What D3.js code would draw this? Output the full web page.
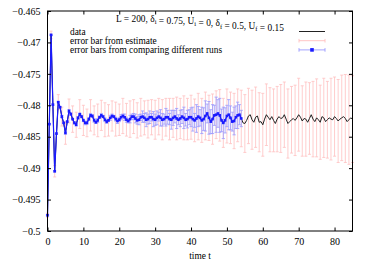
<!DOCTYPE html>
<html>
<head>
<meta charset="utf-8">
<script src="https://cdn.jsdelivr.net/npm/d3@7"></script>
<style>
  body { margin: 0; background: #fff; }
  text { font-family: "Liberation Serif", "DejaVu Serif", serif; font-size: 9.4px; fill: #000; }
  .tick text { font-size: 10px; }
</style>
</head>
<body>
<svg id="viz" width="374" height="262"></svg>
<script>
// time step of the simulation output
var timeStep = 0.5;

// data: <n(t)> sampled every 0.5 from t = 0 to 85
var dataValues = [
	-0.4975, -0.4830, -0.4688, -0.4799, -0.4905, -0.4845, -0.4795, -0.4803, -0.4818, -0.4828,
	-0.4844, -0.4826, -0.4809, -0.4814, -0.4822, -0.4828, -0.4831, -0.4820, -0.4814, -0.4818,
	-0.4824, -0.4828, -0.4828, -0.4822, -0.4816, -0.4817, -0.4824, -0.4827, -0.4824, -0.4819,
	-0.4816, -0.4818, -0.4823, -0.4826, -0.4824, -0.4820, -0.4817, -0.4818, -0.4822, -0.4825,
	-0.4823, -0.4819, -0.4817, -0.4819, -0.4823, -0.4825, -0.4822, -0.4818, -0.4818, -0.4821,
	-0.4824, -0.4823, -0.4819, -0.4818, -0.4820, -0.4823, -0.4822, -0.4819, -0.4819, -0.4822,
	-0.4823, -0.4820, -0.4818, -0.4820, -0.4823, -0.4822, -0.4819, -0.4819, -0.4822, -0.4823,
	-0.4820, -0.4818, -0.4821, -0.4823, -0.4821, -0.4818, -0.4820, -0.4823, -0.4822, -0.4819,
	-0.4819, -0.4822, -0.4824, -0.4821, -0.4818, -0.4820, -0.4824, -0.4822, -0.4817, -0.4813,
	-0.4820, -0.4826, -0.4822, -0.4816, -0.4815, -0.4813, -0.4816, -0.4824, -0.4828, -0.4824,
	-0.4817, -0.4815, -0.4820, -0.4826, -0.4825, -0.4819, -0.4816, -0.4815, -0.4821, -0.4828,
	-0.4829, -0.4824, -0.4817, -0.4815, -0.4823, -0.4827, -0.4819, -0.4817, -0.4827, -0.4826,
	-0.4831, -0.4822, -0.4815, -0.4819, -0.4823, -0.4818, -0.4824, -0.4829, -0.4822, -0.4818,
	-0.4821, -0.4820, -0.4815, -0.4822, -0.4829, -0.4826, -0.4823, -0.4821, -0.4824, -0.4820,
	-0.4815, -0.4819, -0.4825, -0.4821, -0.4822, -0.4827, -0.4821, -0.4815, -0.4822, -0.4826,
	-0.4820, -0.4823, -0.4827, -0.4818, -0.4820, -0.4826, -0.4823, -0.4820, -0.4822, -0.4823,
	-0.4818, -0.4821, -0.4825, -0.4822, -0.4820, -0.4818, -0.4821, -0.4826, -0.4823, -0.4820,
	-0.4822
];

// error bar from estimate: half width at t = 0, 1, 2, ... 85
var estimateErr = [
	0.0003, 0.0006, 0.0009, 0.0012, 0.0015, 0.0018, 0.0019, 0.0021, 0.0020, 0.0023,
	0.0024, 0.0022, 0.0025, 0.0023, 0.0026, 0.0024, 0.0027, 0.0025, 0.0024, 0.0027,
	0.0025, 0.0028, 0.0026, 0.0029, 0.0027, 0.0028, 0.0030, 0.0027, 0.0030, 0.0028,
	0.0031, 0.0029, 0.0032, 0.0030, 0.0033, 0.0031, 0.0034, 0.0032, 0.0035, 0.0033,
	0.0035, 0.0034, 0.0037, 0.0035, 0.0038, 0.0036, 0.0040, 0.0038, 0.0041, 0.0039,
	0.0043, 0.0041, 0.0044, 0.0042, 0.0045, 0.0046, 0.0044, 0.0047, 0.0048, 0.0047,
	0.0050, 0.0049, 0.0051, 0.0050, 0.0052, 0.0054, 0.0052, 0.0055, 0.0053, 0.0056,
	0.0058, 0.0056, 0.0059, 0.0057, 0.0060, 0.0062, 0.0059, 0.0063, 0.0061, 0.0065,
	0.0063, 0.0066, 0.0068, 0.0070, 0.0071, 0.0069
];

// error bars from comparing different runs: half width every 0.5 from t = 0 to 54
var runsErr = [
	0.0001, 0.0001, 0.0001, 0.0001, 0.0001, 0.0001, 0.0001, 0.0001, 0.0002, 0.0001,
	0.0002, 0.0001, 0.0002, 0.0002, 0.0001, 0.0002, 0.0002, 0.0002, 0.0001, 0.0002,
	0.0002, 0.0003, 0.0002, 0.0002, 0.0003, 0.0002, 0.0003, 0.0002, 0.0003, 0.0002,
	0.0003, 0.0002, 0.0003, 0.0003, 0.0002, 0.0004, 0.0003, 0.0002, 0.0003, 0.0004,
	0.0003, 0.0004, 0.0003, 0.0005, 0.0004, 0.0003, 0.0006, 0.0004, 0.0005, 0.0007,
	0.0006, 0.0008, 0.0005, 0.0009, 0.0007, 0.0011, 0.0008, 0.0010, 0.0006, 0.0012,
	0.0009, 0.0011, 0.0007, 0.0013, 0.0010, 0.0008, 0.0014, 0.0011, 0.0009, 0.0015,
	0.0012, 0.0010, 0.0016, 0.0008, 0.0013, 0.0011, 0.0017, 0.0010, 0.0014, 0.0012,
	0.0015, 0.0019, 0.0011, 0.0022, 0.0016, 0.0013, 0.0021, 0.0018, 0.0024, 0.0015,
	0.0026, 0.0019, 0.0023, 0.0016, 0.0028, 0.0022, 0.0027, 0.0018, 0.0025, 0.0020,
	0.0017, 0.0024, 0.0019, 0.0015, 0.0022, 0.0018, 0.0021, 0.0016, 0.0013
];

var xTicks = [0, 10, 20, 30, 40, 50, 60, 70, 80];
var yTicks = [-0.465, -0.47, -0.475, -0.48, -0.485, -0.49, -0.495, -0.5];
var legendLabels = ["data", "error bar from estimate", "error bars from comparing different runs"];

var margin = { left: 47.5, right: 21.5, top: 11, bottom: 31 };
var width = 374, height = 262;

var x = d3.scaleLinear().domain([0, 85]).range([margin.left, width - margin.right]);
var y = d3.scaleLinear().domain([-0.5, -0.465]).range([height - margin.bottom, margin.top]);

var svg = d3.select("#viz");

var pink = "#ffc0c0", blueBar = "#9a9aff", blue = "#1a1aff";

var dataPts = dataValues.map(function (v, i) { return { t: i * timeStep, v: v }; });
var estPts = estimateErr.map(function (e, i) { return { t: i, v: dataValues[i * 2], e: e }; });
var runPts = runsErr.map(function (e, i) { return { t: i * timeStep, v: dataValues[i], e: e }; });

var plot = svg.append("g");

function errorBars(parent, pts, color, cap) {
	var g = parent.append("g").attr("stroke", color).attr("stroke-width", 0.8);
	g.selectAll(".bar").data(pts).enter().append("line")
		.attr("x1", function (d) { return x(d.t); }).attr("x2", function (d) { return x(d.t); })
		.attr("y1", function (d) { return y(d.v + d.e); }).attr("y2", function (d) { return y(d.v - d.e); });
	g.selectAll(".capt").data(pts).enter().append("line")
		.attr("x1", function (d) { return x(d.t) - cap; }).attr("x2", function (d) { return x(d.t) + cap; })
		.attr("y1", function (d) { return y(d.v + d.e); }).attr("y2", function (d) { return y(d.v + d.e); });
	g.selectAll(".capb").data(pts).enter().append("line")
		.attr("x1", function (d) { return x(d.t) - cap; }).attr("x2", function (d) { return x(d.t) + cap; })
		.attr("y1", function (d) { return y(d.v - d.e); }).attr("y2", function (d) { return y(d.v - d.e); });
}

// pink error bars from estimate
errorBars(plot, estPts, pink, 1.5);

// black data line
var line = d3.line().x(function (d) { return x(d.t); }).y(function (d) { return y(d.v); });
plot.append("path").datum(dataPts)
	.attr("fill", "none").attr("stroke", "#222").attr("stroke-width", 1)
	.attr("d", line);

// blue error bars from comparing runs
errorBars(plot, runPts, blueBar, 1.6);
plot.append("path").datum(runPts)
	.attr("fill", "none").attr("stroke", blue).attr("stroke-width", 1.2)
	.attr("d", line);
plot.append("g").selectAll("rect").data(runPts).enter().append("rect")
	.attr("x", function (d) { return x(d.t) - 1.3; }).attr("y", function (d) { return y(d.v) - 1.3; })
	.attr("width", 2.6).attr("height", 2.6).attr("fill", blue);

// axes, gnuplot style: ticks inward and mirrored
var x0 = x.range()[0], x1 = x.range()[1], y0 = y.range()[0], y1 = y.range()[1];

function plain(g) {
	g.attr("font-family", null).attr("font-size", null);
	g.select(".domain").remove();
	g.selectAll(".tick line").attr("stroke", "#000");
	g.selectAll(".tick text").style("fill", "#000");
}

svg.append("g").attr("transform", "translate(0," + y0 + ")")
	.call(d3.axisBottom(x).tickValues(xTicks).tickSizeInner(-3.5).tickSizeOuter(0).tickPadding(7))
	.call(plain);
svg.append("g").attr("transform", "translate(0," + y1 + ")")
	.call(d3.axisTop(x).tickValues(xTicks).tickSizeInner(-3.5).tickSizeOuter(0).tickFormat(""))
	.call(plain);
svg.append("g").attr("transform", "translate(" + x0 + ",0)")
	.call(d3.axisLeft(y).tickValues(yTicks).tickSizeInner(-3.5).tickSizeOuter(0).tickPadding(7).tickFormat(d3.format("")))
	.call(plain);
svg.append("g").attr("transform", "translate(" + x1 + ",0)")
	.call(d3.axisRight(y).tickValues(yTicks).tickSizeInner(-3.5).tickSizeOuter(0).tickFormat(""))
	.call(plain);

svg.append("rect")
	.attr("x", x0).attr("y", y1).attr("width", x1 - x0).attr("height", y0 - y1)
	.attr("fill", "none").attr("stroke", "#000").attr("stroke-width", 1);

svg.append("text").attr("x", (x0 + x1) / 2).attr("y", 259).attr("text-anchor", "middle").text("time t");

// parameter line
var title = svg.append("text").attr("x", 200).attr("y", 21.5).attr("text-anchor", "middle");
var parts = [["L = 200, δ", "i"], [" = 0.75, U", "i"], [" = 0, δ", "f"], [" = 0.5, U", "f"], [" = 0.15", null]];
parts.forEach(function (p) {
	title.append("tspan").text(p[0]);
	if (p[1]) {
		title.append("tspan").attr("dy", 2.4).style("font-size", "6.6px").text(p[1]);
		title.append("tspan").attr("dy", -2.4).text("");
	}
});

// legend
var legend = svg.append("g");
var legY = [31.5, 40.7, 49.9];
legend.selectAll("text").data(legendLabels).enter().append("text")
	.attr("x", 70).attr("y", function (d, i) { return legY[i] + 3.2; })
	.text(function (d) { return d; });

var lx0 = 299, lx1 = 325;
legend.append("line").attr("x1", lx0).attr("x2", lx1).attr("y1", legY[0]).attr("y2", legY[0])
	.attr("stroke", "#222").attr("stroke-width", 1);
[[pink, legY[1]], [blueBar, legY[2]]].forEach(function (s) {
	var g = legend.append("g").attr("stroke", s[0]).attr("stroke-width", 0.9);
	g.append("line").attr("x1", lx0).attr("x2", lx1).attr("y1", s[1]).attr("y2", s[1]);
	g.append("line").attr("x1", lx0).attr("x2", lx0).attr("y1", s[1] - 1.8).attr("y2", s[1] + 1.8);
	g.append("line").attr("x1", lx1).attr("x2", lx1).attr("y1", s[1] - 1.8).attr("y2", s[1] + 1.8);
});
legend.append("rect").attr("x", 312 - 1.8).attr("y", legY[2] - 1.8).attr("width", 3.6).attr("height", 3.6).attr("fill", blue);
</script>
</body>
</html>
